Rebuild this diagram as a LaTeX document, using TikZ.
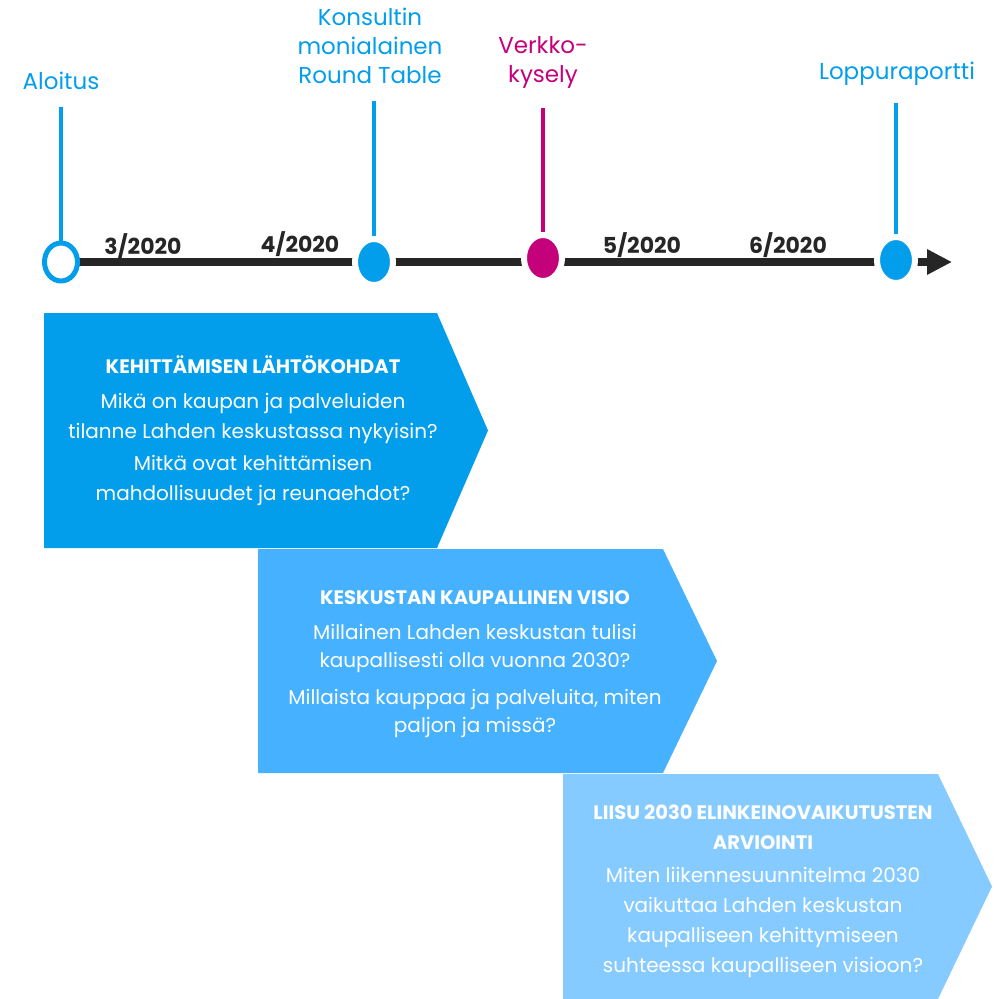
\documentclass[tikz,border=0pt]{standalone}
\usepackage{fontspec}
\setmainfont{Poppins}
\usepackage{tikz}
\usetikzlibrary{positioning}
\usetikzlibrary{arrows.meta}
\usetikzlibrary{shapes.geometric}
\usetikzlibrary{backgrounds}

\definecolor{lahtiblue}{RGB}{3,158,235}
\definecolor{midblue}{RGB}{69,177,255}
\definecolor{paleblue}{RGB}{134,203,255}
\definecolor{kyselymag}{RGB}{196,0,122}
\definecolor{axisgrey}{RGB}{38,38,38}

\newcommand{\phasehead}[1]{{\fontsize{19.5}{30}\selectfont\bfseries #1}}

\tikzset{
	milestone/.style={ellipse, draw=white, line width=6pt, minimum width=38pt, minimum height=46pt, inner sep=0pt},
	stem/.style={line width=4pt},
	eventlabel/.style={align=center, font=\fontsize{23}{29}\selectfont},
	datelabel/.style={font=\fontsize{22}{26}\selectfont\bfseries, text=axisgrey},
	phasetext/.style={align=center, text=white, font=\fontsize{20}{30}\selectfont}
}

\begin{document}
\begin{tikzpicture}[x=1pt, y=-1pt, line cap=butt, line join=miter]
	\useasboundingbox (0,0) rectangle (1005,999);

	\node[ellipse, draw=lahtiblue, fill=white, line width=5pt, minimum width=33pt, minimum height=38pt, inner sep=0pt] (aloitus) at (61,262) {};
	\node[milestone, fill=lahtiblue] (roundtable) at (374,262) {};
	\node[milestone, fill=kyselymag] (kysely) at (543,258) {};
	\node[milestone, fill=lahtiblue] (raportti) at (896,260) {};
	\coordinate (tip) at (952,262);

	\begin{scope}[on background layer]
		\draw[line width=8pt, axisgrey, -{Triangle[length=25pt,width=24pt]}] (aloitus.center) -- (tip);
	\end{scope}

	\coordinate (aloitus-top) at (61,107);
	\coordinate (roundtable-top) at (374,101);
	\coordinate (kysely-top) at (543,108);
	\coordinate (raportti-top) at (896,103);
	\draw[stem, lahtiblue] (aloitus-top) -- (aloitus.north);
	\draw[stem, lahtiblue] (roundtable-top) -- (roundtable.north);
	\draw[stem, kyselymag] (kysely-top) -- (kysely.north);
	\draw[stem, lahtiblue] (raportti-top) -- (raportti.north);

	\node[eventlabel, text=lahtiblue] (aloitus-lbl) at (61,81) {Aloitus};
	\node[eventlabel, text=lahtiblue] (roundtable-lbl) at (370,46) {Konsultin\\monialainen\\Round Table};
	\node[eventlabel, text=kyselymag] (kysely-lbl) at (543,62) {Verkko-\\kysely};
	\node[eventlabel, text=lahtiblue] (raportti-lbl) at (897,74) {Loppuraportti};

	\node[datelabel] (maalis) at (143,246) {3/2020};
	\node[datelabel] (huhti) at (300,244) {4/2020};
	\node[datelabel] (touko) at (642,245) {5/2020};
	\node[datelabel] (kesa) at (788,245) {6/2020};

	\fill[lahtiblue] (44,313) -- (437,313) -- (488,430.5) -- (437,548) -- (44,548) -- cycle;
	\fill[midblue] (258,549) -- (663,549) -- (717,661) -- (663,773) -- (258,773) -- cycle;
	\fill[paleblue] (563,774) -- (938,774) -- (992,886.5) -- (938,999) -- (563,999) -- cycle;

	\node[phasetext] (lahtokohdat) at (253,431) {\phasehead{KEHITTÄMISEN LÄHTÖKOHDAT}\\[5pt]
		Mikä on kaupan ja palveluiden\\ tilanne Lahden keskustassa nykyisin?\\[2pt]
		Mitkä ovat kehittämisen\\ mahdollisuudet ja reunaehdot?};
	\node[phasetext, font=\fontsize{20}{28}\selectfont] (visio) at (475,664) {\phasehead{KESKUSTAN KAUPALLINEN VISIO}\\[7pt]
		Millainen Lahden keskustan tulisi\\ kaupallisesti olla vuonna 2030?\\[9pt]
		Millaista kauppaa ja palveluita, miten\\ paljon ja missä?};
	\node[phasetext] (arviointi) at (763,891) {\phasehead{LIISU 2030 ELINKEINOVAIKUTUSTEN}\\
		\phasehead{ARVIOINTI}\\[3pt]
		Miten liikennesuunnitelma 2030\\ vaikuttaa Lahden keskustan\\ kaupalliseen kehittymiseen\\ suhteessa kaupalliseen visioon?};
\end{tikzpicture}
\end{document}
